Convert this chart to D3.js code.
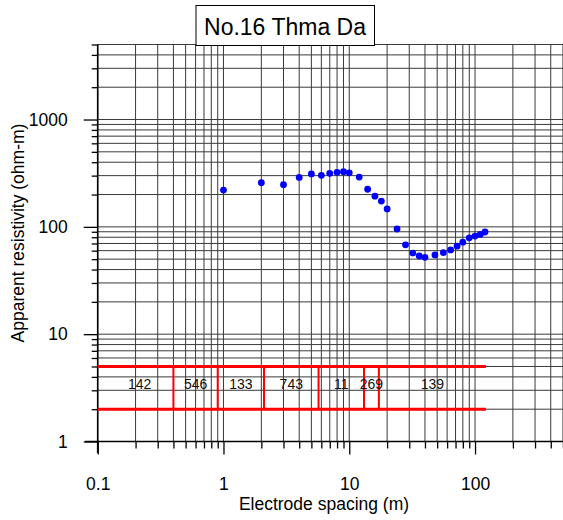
<!DOCTYPE html>
<html>
<head>
<meta charset="utf-8">
<title>No.16 Thma Da</title>
<style>
    html, body { margin: 0; padding: 0; background: #fff; }
    svg { display: block; font-family: "Liberation Sans", Arial, sans-serif; }
</style>
<script src="https://d3js.org/d3.v7.min.js"></script>
</head>
<body>
<svg id="chart" width="563" height="520"></svg>
<script>
// sounding data: electrode spacing (m) and apparent resistivity (ohm-m)
const spacing = [1, 2, 3, 4, 5, 6, 7, 8, 9, 10, 12, 14, 16, 18, 20, 24, 28, 32, 36, 40, 48, 56, 64, 72, 80, 90, 100, 110, 120];
const resistivity = [220, 258, 247, 289, 311, 302, 315, 322, 326, 319, 291, 224, 193, 174, 147, 95.5, 68, 57, 53.5, 52, 54.7, 57.4, 61, 66, 72, 79, 82, 85, 89.5];

// layered model: boundaries (m) and layer resistivities
const layerBounds = [0.1, 0.4, 0.9, 2.1, 5.7, 13.1, 17.2, 122];
const layerRes = [142, 546, 133, 743, 11, 269, 139];
const modelBand = [2, 5];

const xTickLabels = [0.1, 1, 10, 100];
const yTickLabels = [1, 10, 100, 1000];

const svg = d3.select("#chart");

const x = d3.scaleLog().domain([0.1, 1000]).range([97.7, 600.8]);
const y = d3.scaleLog().domain([1, 5000]).range([441.5, 44.5]);

// minor values for grid/ticks
function minors(lo, hi) {
    let out = [];
    for (let p = Math.floor(Math.log10(lo)); p <= Math.ceil(Math.log10(hi)); p++) {
        for (let m = 1; m <= 9; m++) {
            let v = m * Math.pow(10, p);
            if (v >= lo * 0.999 && v <= hi * 1.001) out.push(+v.toPrecision(3));
        }
    }
    return out;
}
const xGrid = minors(0.1, 1000);
const yGrid = minors(1, 5000);

const grid = svg.append("g").attr("stroke", "#3a3a3a").attr("stroke-width", 1);
grid.selectAll(".vg").data(xGrid).enter().append("line")
    .attr("x1", d => x(d)).attr("x2", d => x(d))
    .attr("y1", y(5000)).attr("y2", y(1));
grid.selectAll(".hg").data(yGrid).enter().append("line")
    .attr("x1", x(0.1)).attr("x2", 563)
    .attr("y1", d => y(d)).attr("y2", d => y(d));

// axes
const xAxis = d3.axisBottom(x)
    .tickValues(xGrid)
    .tickSize(7)
    .tickFormat(d => xTickLabels.includes(d) ? d : "");
const gx = svg.append("g").attr("transform", "translate(0," + y(1) + ")").call(xAxis);
gx.select(".domain").remove();
gx.selectAll(".tick line").attr("stroke", "#000").attr("stroke-width", 1.3)
    .attr("y2", d => xTickLabels.includes(d) ? 13 : 7);
gx.selectAll(".tick text").attr("font-size", "17.5px").attr("fill", "#000")
    .attr("font-family", "Liberation Sans, Arial, sans-serif")
    .attr("dy", null).attr("y", 48);
svg.append("line").attr("x1", 85).attr("x2", 563).attr("y1", y(1)).attr("y2", y(1))
    .attr("stroke", "#000").attr("stroke-width", 1.6);

const yAxis = d3.axisLeft(y)
    .tickValues(yGrid)
    .tickSize(6)
    .tickFormat(d => yTickLabels.includes(d) ? d : "");
const gy = svg.append("g").attr("transform", "translate(" + x(0.1) + ",0)").call(yAxis);
gy.select(".domain").remove();
gy.selectAll(".tick line").attr("stroke", "#000").attr("stroke-width", 1.3)
    .attr("x2", d => yTickLabels.includes(d) ? -14 : -6);
gy.selectAll(".tick text").attr("font-size", "17.5px").attr("fill", "#000")
    .attr("font-family", "Liberation Sans, Arial, sans-serif")
    .attr("x", -30);
svg.append("line").attr("x1", x(0.1)).attr("x2", x(0.1)).attr("y1", y(5000)).attr("y2", 453)
    .attr("stroke", "#000").attr("stroke-width", 1.6);

// layered model box
const red = "#ff0000";
const model = svg.append("g");
model.selectAll(".hband").data(modelBand).enter().append("line")
    .attr("x1", x(layerBounds[0])).attr("x2", x(layerBounds[layerBounds.length - 1]))
    .attr("y1", d => y(d)).attr("y2", d => y(d))
    .attr("stroke", red).attr("stroke-width", 3);
model.selectAll(".vsep").data(layerBounds.slice(1, -1)).enter().append("line")
    .attr("x1", d => x(d)).attr("x2", d => x(d))
    .attr("y1", y(modelBand[0])).attr("y2", y(modelBand[1]))
    .attr("stroke", red).attr("stroke-width", 2);
model.selectAll(".lab").data(layerRes).enter().append("text")
    .attr("x", (d, i) => (x(layerBounds[i]) + x(layerBounds[i + 1])) / 2 + (i === 0 ? 4 : 0))
    .attr("y", y(Math.sqrt(modelBand[0] * modelBand[1])) + 1.5)
    .attr("text-anchor", "middle")
    .attr("font-size", "14px")
    .attr("fill", "#111")
    .text(d => d);

// data points
svg.selectAll(".pt").data(spacing).enter().append("circle")
    .attr("cx", d => x(d))
    .attr("cy", (d, i) => y(resistivity[i]))
    .attr("r", 3.4)
    .attr("fill", "#0000ff");

// axis titles
svg.append("text")
    .attr("x", 324).attr("y", 510)
    .attr("text-anchor", "middle")
    .attr("font-size", "17.5px")
    .text("Electrode spacing (m)");
svg.append("text")
    .attr("transform", "translate(24,233) rotate(-90)")
    .attr("text-anchor", "middle")
    .attr("font-size", "17.5px")
    .text("Apparent resistivity (ohm-m)");

// title box
svg.append("rect")
    .attr("x", 196).attr("y", 5.5).attr("width", 178.5).attr("height", 40)
    .attr("fill", "#fff").attr("stroke", "#000").attr("stroke-width", 1);
svg.append("text")
    .attr("x", 285).attr("y", 34.5)
    .attr("text-anchor", "middle")
    .attr("font-size", "23px")
    .text("No.16 Thma Da");
</script>
</body>
</html>
